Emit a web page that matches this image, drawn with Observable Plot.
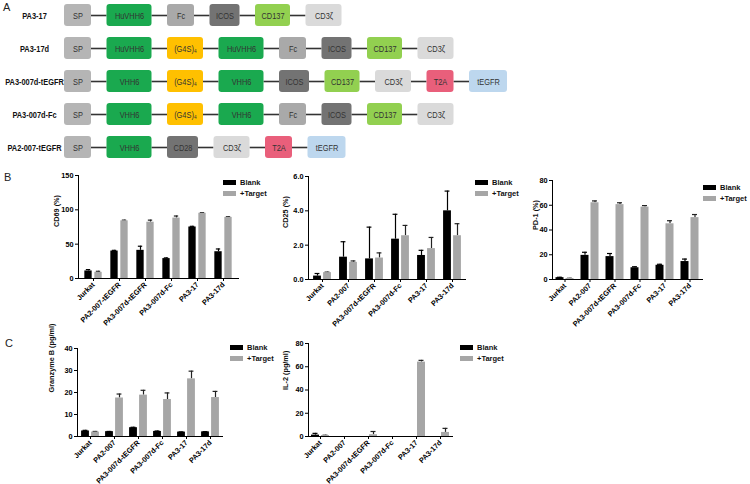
<!DOCTYPE html>
<html>
<head>
<meta charset="utf-8">
<script src="https://cdn.jsdelivr.net/npm/d3@7"></script>
<script src="https://cdn.jsdelivr.net/npm/@observablehq/plot@0.6"></script>
<style>
  html, body { margin: 0; padding: 0; background: #fff; }
  #fig { position: relative; width: 750px; height: 484px; overflow: hidden; background: #fff; font-family: 'Liberation Sans', Arial, Helvetica, sans-serif; }
  .abs { position: absolute; }
  .letter { position: absolute; font-size: 11px; color: #222; }
  .legend { position: absolute; font-size: 7.5px; font-weight: bold; color: #111; }
  .legend .row { display: flex; align-items: center; height: 11.5px; white-space: nowrap; }
  .legend .sw { width: 13px; height: 5px; margin-right: 4px; }
</style>
</head>
<body>
<div id="fig"></div>
<script>
// ---------------- DATA ----------------
// Panel A: constructs and their domains
const constructs = ["PA3-17", "PA3-17d", "PA3-007d-tEGFR", "PA3-007d-Fc", "PA2-007-tEGFR"];
const constructDomains = [
  ["SP", "HuVHH6", "Fc", "ICOS", "CD137", "CD3ζ"],
  ["SP", "HuVHH6", "(G4S)₄", "HuVHH6", "Fc", "ICOS", "CD137", "CD3ζ"],
  ["SP", "VHH6", "(G4S)₄", "VHH6", "ICOS", "CD137", "CD3ζ", "T2A", "tEGFR"],
  ["SP", "VHH6", "(G4S)₄", "VHH6", "Fc", "ICOS", "CD137", "CD3ζ"],
  ["SP", "VHH6", "CD28", "CD3ζ", "T2A", "tEGFR"]
];

// Panels B and C: groups, series
const seriesNames = ["Blank", "+Target"];
const groupsCD69 = ["Jurkat", "PA2-007-tEGFR", "PA3-007d-tEGFR", "PA3-007d-Fc", "PA3-17", "PA3-17d"];
const groupsOther = ["Jurkat", "PA2-007", "PA3-007d-tEGFR", "PA3-007d-Fc", "PA3-17", "PA3-17d"];

const cd69Blank = [11, 40, 41, 29, 75, 39];
const cd69BlankErr = [2, 1, 6, 1, 1, 4];
const cd69Target = [9, 84, 82, 88, 95, 89];
const cd69TargetErr = [1.5, 1, 3, 3, 1, 1];

const cd25Blank = [0.2, 1.3, 1.2, 2.35, 1.4, 4.0];
const cd25BlankErr = [0.15, 0.9, 1.85, 1.45, 0.3, 1.15];
const cd25Target = [0.4, 1.0, 1.25, 2.55, 1.8, 2.55];
const cd25TargetErr = [0.03, 0.08, 0.3, 0.6, 0.65, 0.7];

const pd1Blank = [1.5, 19.5, 18.5, 9.5, 11.5, 14.5];
const pd1BlankErr = [0.3, 2.5, 2.5, 0.8, 0.8, 2];
const pd1Target = [0.8, 62, 60.5, 58.5, 45, 50];
const pd1TargetErr = [0.2, 1.5, 1.5, 1.2, 2.5, 2.5];

const gzbBlank = [2.5, 2.2, 4.0, 2.3, 2.0, 2.1];
const gzbBlankErr = [0.3, 0.1, 0.2, 0.2, 0.1, 0.1];
const gzbTarget = [2.0, 17.5, 18.8, 16.8, 26.2, 17.7];
const gzbTargetErr = [0.3, 1.8, 2.2, 3.0, 3.5, 2.8];

const il2Blank = [1.2, 0, 0, 0, 0, 0];
const il2BlankErr = [1.5, 0, 0, 0, 0, 0];
const il2Target = [0.8, 0, 1.5, 0, 64, 3.5];
const il2TargetErr = [0.3, 0, 2.8, 0, 1.5, 3.5];

// ---------------- STYLE / LAYOUT ----------------
const FONT = "'Liberation Sans', Arial, Helvetica, sans-serif";
const seriesColors = ["#000000", "#a6a6a6"];
const domainColor = {
  "SP": "#b5b5b5", "HuVHH6": "#1aa94f", "VHH6": "#1aa94f", "(G4S)₄": "#ffc000",
  "Fc": "#a9a9a9", "ICOS": "#737373", "CD137": "#92d050", "CD3ζ": "#dadada",
  "T2A": "#e95f7b", "tEGFR": "#bdd7ee", "CD28": "#737373"
};
const domainWidth = {
  "SP": 27, "HuVHH6": 45, "VHH6": 45, "(G4S)₄": 36, "Fc": 27, "ICOS": 30,
  "CD137": 35, "CD3ζ": 36, "T2A": 27, "tEGFR": 38, "CD28": 31
};
const rowStart = 64, boxGap = 15.5, condense = 0.78;

const fig = document.getElementById("fig");
function place(node, left, top) {
  const d = document.createElement("div");
  d.className = "abs";
  d.style.left = left + "px";
  d.style.top = top + "px";
  d.appendChild(node);
  fig.appendChild(d);
}
function letter(t, left, top) {
  const d = document.createElement("div");
  d.className = "letter";
  d.textContent = t;
  d.style.left = left + "px";
  d.style.top = top + "px";
  fig.appendChild(d);
}
function legend(left, firstCenter) {
  const d = document.createElement("div");
  d.className = "legend";
  d.style.left = left + "px";
  d.style.top = (firstCenter - 5.75) + "px";
  seriesNames.forEach((s, i) => {
    const r = document.createElement("div");
    r.className = "row";
    const sw = document.createElement("span");
    sw.className = "sw";
    sw.style.background = seriesColors[i];
    const tx = document.createElement("span");
    tx.textContent = s;
    r.appendChild(sw); r.appendChild(tx);
    d.appendChild(r);
  });
  fig.appendChild(d);
}
// horizontally condense text elements (emulates a narrow typeface)
function condenseTexts(svg, k) {
  svg.querySelectorAll("text").forEach(el => {
    const t = el.getAttribute("transform");
    if (t) {
      el.setAttribute("transform", t + ` scale(${k},1)`);
    } else {
      const x = +(el.getAttribute("x") || 0);
      el.setAttribute("transform", `translate(${x},0) scale(${k},1) translate(${-x},0)`);
    }
  });
}

// ---------------- PANEL A ----------------
const boxes = [], links = [];
constructs.forEach((row, i) => {
  let x = rowStart, prev = null;
  constructDomains[i].forEach(name => {
    const w = domainWidth[name];
    const b = {row, name, x1: x, x2: x + w, cx: x + w / 2, color: domainColor[name]};
    if (prev) links.push({row, x1: prev.x2, x2: b.x1});
    boxes.push(b);
    prev = b;
    x += w + boxGap;
  });
});

const panelA = Plot.plot({
  width: 750, height: 165,
  marginTop: 0, marginBottom: 0, marginLeft: 0, marginRight: 0,
  style: {background: "transparent", fontFamily: FONT},
  x: {domain: [0, 750], range: [0, 750], axis: null},
  y: {type: "band", domain: constructs, range: [4, 158], paddingInner: 1 / 3, paddingOuter: 0, axis: null},
  color: {type: "identity"},
  marks: [
    Plot.ruleY(links, {y: "row", x1: "x1", x2: "x2", stroke: "#333", strokeWidth: 1.6}),
    Plot.barX(boxes, {x1: "x1", x2: "x2", y: "row", fill: "color", rx: 3}),
    Plot.text(boxes, {x: "cx", y: "row", text: "name", fill: "#333", fontSize: 9.5, fontFamily: FONT}),
    Plot.text(constructs, {y: d => d, text: d => d, frameAnchor: "left", dx: 34, textAnchor: "middle",
      fontWeight: "bold", fontSize: 9.5, fontFamily: FONT, fill: "#111"})
  ]
});
condenseTexts(panelA, condense);
place(panelA, 0, 0);

// ---------------- BAR CHARTS ----------------
function barChart(cfg) {
  const {cats, blank, blankErr, target, targetErr, yMax, yTicks, yLabel, axisX, top, bottom, plotW, labelDx} = cfg;
  const mL = 45, mT = 8, mR = 6;
  const mB = Math.min(62, 484 - bottom);
  const n = cats.length, bw = plotW / n, half = bw / 2;
  const rows = cats.map((c, i) => ({cat: c, b: blank[i], be: blankErr[i], t: target[i], te: targetErr[i]}));
  const errB = rows.filter(d => d.be > 0), errT = rows.filter(d => d.te > 0);
  const svg = Plot.plot({
    width: mL + plotW + mR, height: mT + (bottom - top) + mB,
    marginLeft: mL, marginRight: mR, marginTop: mT, marginBottom: mB,
    style: {fontFamily: FONT, fontSize: "7.3px", fontWeight: "bold", color: "#000", background: "transparent", overflow: "visible"},
    x: {type: "band", domain: cats, padding: 0, tickRotate: -45, tickSize: 3, tickPadding: 2, line: true, label: null},
    y: {domain: [0, yMax], ticks: yTicks, tickSize: 3, tickPadding: 2, line: true, label: null},
    marks: [
      Plot.ruleX(errB, {x: "cat", y1: "b", y2: d => d.b + d.be, dx: -5, stroke: "#000", strokeWidth: 1.2}),
      Plot.tickY(errB, {x: "cat", y: d => d.b + d.be, insetLeft: half - 7.5, insetRight: half + 2.5, stroke: "#000", strokeWidth: 1.2}),
      Plot.ruleX(errT, {x: "cat", y1: "t", y2: d => d.t + d.te, dx: 5, stroke: "#222", strokeWidth: 1.2}),
      Plot.tickY(errT, {x: "cat", y: d => d.t + d.te, insetLeft: half + 2.5, insetRight: half - 7.5, stroke: "#222", strokeWidth: 1.2}),
      Plot.barY(rows, {x: "cat", y: "b", fill: seriesColors[0], insetLeft: half - 9, insetRight: half + 1}),
      Plot.barY(rows, {x: "cat", y: "t", fill: seriesColors[1], insetLeft: half + 1, insetRight: half - 9}),
      Plot.text([yLabel], {frameAnchor: "left", rotate: -90, dx: labelDx, text: d => d, fontSize: 7.3, fontWeight: "bold", fill: "#111"})
    ]
  });
  place(svg, axisX - mL, top - mT);
}

barChart({cats: groupsCD69, blank: cd69Blank, blankErr: cd69BlankErr, target: cd69Target, targetErr: cd69TargetErr,
  yMax: 150, yTicks: [0, 50, 100, 150], yLabel: "CD69 (%)", axisX: 78, top: 175, bottom: 278, plotW: 160, labelDx: -22});
barChart({cats: groupsOther, blank: cd25Blank, blankErr: cd25BlankErr, target: cd25Target, targetErr: cd25TargetErr,
  yMax: 6, yTicks: [0, 2, 4, 6], yLabel: "CD25 (%)", axisX: 308, top: 176, bottom: 279, plotW: 157, labelDx: -23});
barChart({cats: groupsOther, blank: pd1Blank, blankErr: pd1BlankErr, target: pd1Target, targetErr: pd1TargetErr,
  yMax: 80, yTicks: [0, 20, 40, 60, 80], yLabel: "PD-1 (%)", axisX: 552, top: 180, bottom: 279, plotW: 150, labelDx: -17});
barChart({cats: groupsOther, blank: gzbBlank, blankErr: gzbBlankErr, target: gzbTarget, targetErr: gzbTargetErr,
  yMax: 40, yTicks: [0, 10, 20, 30, 40], yLabel: "Granzyme B (pg/ml)", axisX: 77, top: 348, bottom: 436, plotW: 145, labelDx: -26});
barChart({cats: groupsOther, blank: il2Blank, blankErr: il2BlankErr, target: il2Target, targetErr: il2TargetErr,
  yMax: 80, yTicks: [0, 20, 40, 60, 80], yLabel: "IL-2 (pg/ml)", axisX: 308, top: 343, bottom: 436, plotW: 144, labelDx: -23});

legend(223, 182);
legend(475, 182);
legend(703, 187);
legend(230, 347);
legend(460, 347);

letter("A", 3, 1);
letter("B", 4, 171);
letter("C", 5, 337);
</script>
</body>
</html>
